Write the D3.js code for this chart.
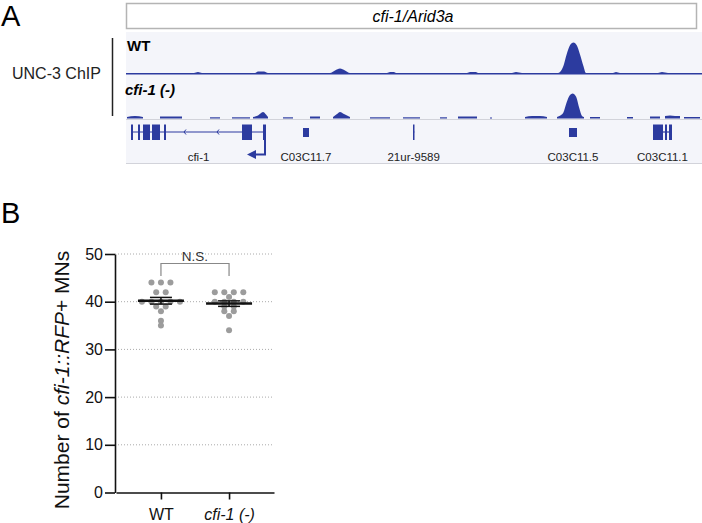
<!DOCTYPE html>
<html>
<head>
<meta charset="utf-8">
<style>
	body { margin: 0; background: #fff; }
	svg { display: block; font-family: "Liberation Sans", Arial, sans-serif; }
</style>
</head>
<body>
<svg id="fig" width="702" height="523"></svg>
<script src="https://d3js.org/d3.v7.min.js"></script>
<script>

	// ---- panel A : ChIP signal, positions in kb from left edge of browser window ----
	var wtSignal = [[
		[0,1.5],[3.4,1.5],[3.6,2.5],[3.8,1.5],[6.45,1.5],[6.6,3],[6.9,3],[7.1,1.5],
		[10.2,1.5],[10.45,4],[10.7,6],[10.95,4],[11.2,1.5],[13.05,1.5],[13.2,2.5],[13.4,2.5],[13.5,1.5],
		[17.05,1.5],[17.2,2.5],[17.5,2.5],[17.6,1.5],[19.3,1.5],[19.5,2.5],[19.8,1.5],
		[21.6,1.5],[21.7,2.5],[21.87,8.5],[22.03,20],[22.2,29.3],[22.37,32],[22.53,29.5],[22.7,20],[22.87,8.5],[23.0,1.5],
		[24.35,1.5],[24.5,2.5],[24.7,1.5],[26.6,1.5],[26.8,2.5],[27.1,1.5],[28.8,1.5]
	]];
	var cfiSignal = [
		[[0.05,1.5],[0.45,2.5],[0.85,1.5]],
		[[1.7,2],[2.8,2]],
		[[4.2,1.2],[4.7,1.2]],
		[[5.3,1.2],[6.2,1.2]],
		[[6.35,1.5],[6.6,3],[6.85,6.5],[7.0,4],[7.1,1.5]],
		[[7.85,1.2],[8.35,1.2]],
		[[9.2,2],[9.7,2]],
		[[10.35,1.5],[10.55,4.5],[10.7,6.5],[10.9,4.5],[11.2,1.5]],
		[[12.2,1.2],[13.2,1.2]],
		[[13.85,1.2],[14.7,1.2]],
		[[15.7,1.2],[16.05,1.2]],
		[[16.6,2],[17.55,2]],
		[[18.2,1],[18.3,1]],
		[[19.95,1.5],[20.3,2.5],[20.7,2.5],[21.05,1.5]],
		[[21.55,1.5],[21.67,2.5],[21.87,6],[22.03,16],[22.2,23.5],[22.33,25],[22.5,22],[22.67,10],[22.8,2.5],[22.9,1.5]],
		[[23.2,1.5],[23.7,1.5]],
		[[25.05,1.5],[25.35,1.5]],
		[[26.2,2],[26.7,2]],
		[[26.95,2.5],[27.2,3],[27.45,2.5],[27.7,2.5]],
		[[27.9,1.5],[28.7,1.5]]
	];

	// gene models : c = coding exon (tall), n = short box
	var geneNames = ["cfi-1", "C03C11.7", "21ur-9589", "C03C11.5", "C03C11.1"];
	var geneSpans = [[0.25,7.0],[8.85,9.15],[14.35,14.42],[22.15,22.55],[26.35,27.3]];
	var geneExons = [
		[[0.25,0.35,"c"],[0.6,0.7,"c"],[0.85,1.2,"c"],[1.3,1.7,"c"],[1.9,2.0,"c"],[5.8,6.3,"c"],[6.85,7.0,"c"]],
		[[8.85,9.15,"n"]],
		[[14.35,14.42,"c"]],
		[[22.15,22.55,"n"]],
		[[26.35,26.85,"c"],[26.95,27.05,"c"],[27.15,27.3,"c"]]
	];
	var intronMarks = [2.9, 4.55];

	// ---- panel B : cfi-1::RFP+ MN counts ----
	var groups = ["WT", "cfi-1 (-)"];
	var wtCounts = [44,44,44,42,42,40,40,40,40,40,39,39,38,36,35];
	var cfiCounts = [42,42,42,42,41,40,40,40,40,39,39,38,38,37,34];
	var yTicks = [0,10,20,30,40,50];

	var svg = d3.select("#fig");
	var blue = "#2c3b9f";

	// ================= panel A =================
	svg.append("text").attr("x", 1).attr("y", 26).style("font-size", "29px").text("A");

	var gx = d3.scaleLinear().domain([0, 28.8]).range([126, 702]);

	svg.append("rect").attr("x", 126.5).attr("y", 3.5).attr("width", 570).attr("height", 25)
		.attr("fill", "#fff").attr("stroke", "#b4b4b4").attr("stroke-width", 1.5);
	svg.append("text").attr("x", 413).attr("y", 21.5).attr("text-anchor", "middle")
		.style("font-size", "16px").style("font-style", "italic").text("cfi-1/Arid3a");

	svg.append("rect").attr("x", 126).attr("y", 32).attr("width", 576).attr("height", 132).attr("fill", "#f4f5fa");
	[119.5, 163.5].forEach(function(yy){
		svg.append("line").attr("x1", 126).attr("x2", 702).attr("y1", yy).attr("y2", yy)
			.attr("stroke", "#d2d3da").attr("stroke-width", 1);
	});

	svg.append("line").attr("x1", 112.5).attr("x2", 112.5).attr("y1", 38).attr("y2", 116)
		.attr("stroke", "#222").attr("stroke-width", 1.5);
	svg.append("text").attr("x", 12).attr("y", 78.5).style("font-size", "16px").attr("fill", "#222").text("UNC-3 ChIP");

	svg.append("text").attr("x", 127).attr("y", 51).style("font-size", "15px").style("font-weight", "bold").text("WT");
	svg.append("text").attr("x", 125).attr("y", 95).style("font-size", "15px").style("font-weight", "bold")
		.style("font-style", "italic").text("cfi-1 (-)");

	function drawTrack(segs, base){
		var sy = d3.scaleLinear().domain([0, 32]).range([base, base - 32]);
		var area = d3.area().curve(d3.curveMonotoneX)
			.x(function(d){ return gx(d[0]); })
			.y0(base)
			.y1(function(d){ return sy(d[1]); });
		svg.append("g").selectAll("path").data(segs).enter().append("path")
			.attr("d", area).attr("fill", blue);
	}
	drawTrack(wtSignal, 74.5);
	drawTrack(cfiSignal, 118.5);

	// genes
	var gg = svg.append("g");
	geneSpans.forEach(function(s, i){
		gg.append("line").attr("x1", gx(s[0])).attr("x2", gx(s[1])).attr("y1", 132).attr("y2", 132)
			.attr("stroke", blue).attr("stroke-width", 1.2);
		gg.selectAll(null).data(geneExons[i]).enter().append("rect")
			.attr("x", function(d){ return gx(d[0]); })
			.attr("width", function(d){ return Math.max(1.5, gx(d[1]) - gx(d[0])); })
			.attr("y", function(d){ return d[2] == "c" ? 124.5 : 128; })
			.attr("height", function(d){ return d[2] == "c" ? 15.5 : 9; })
			.attr("fill", blue);
		gg.append("text").attr("x", gx((s[0] + s[1]) / 2)).attr("y", 161).attr("text-anchor", "middle")
			.style("font-size", "11.5px").attr("fill", "#222").text(geneNames[i]);
	});
	gg.selectAll(null).data(intronMarks).enter().append("path")
		.attr("d", function(d){ var x = gx(d); return "M" + (x + 2) + ",129.5L" + x + ",132L" + (x + 2) + ",134.5"; })
		.attr("fill", "none").attr("stroke", blue).attr("stroke-width", 1);
	// TSS arrow (minus strand)
	var tss = gx(geneSpans[0][1]) - 1;
	gg.append("path").attr("d", "M" + tss + ",139V154.5H" + (tss - 10))
		.attr("fill", "none").attr("stroke", blue).attr("stroke-width", 2);
	gg.append("path").attr("d", "M" + (tss - 18) + ",154.5L" + (tss - 9) + ",150L" + (tss - 9) + ",159Z").attr("fill", blue);

	// ================= panel B =================
	svg.append("text").attr("x", 1).attr("y", 223).style("font-size", "29px").text("B");

	var y = d3.scaleLinear().domain([0, 50]).range([492.5, 254]);
	var x = d3.scalePoint().domain(groups).range([116, 274]).padding(0.66);

	// grid
	svg.append("g").selectAll("line").data(yTicks.slice(1)).enter().append("line")
		.attr("x1", 115).attr("x2", 274)
		.attr("y1", function(d){ return y(d); }).attr("y2", function(d){ return y(d); })
		.attr("stroke", "#aaa").attr("stroke-width", 1).attr("stroke-dasharray", "1,2");

	var ya = svg.append("g").attr("transform", "translate(115,0)")
		.call(d3.axisLeft(y).tickValues(yTicks).tickSize(10).tickSizeOuter(0).tickPadding(2));
	var xa = svg.append("g").attr("transform", "translate(0," + y(0) + ")")
		.call(d3.axisBottom(x).tickSize(7).tickSizeOuter(0).tickPadding(9));
	[ya, xa].forEach(function(a){
		a.selectAll("path,line").attr("stroke", "#111").attr("stroke-width", 1.6);
		a.selectAll("text").style("font-size", "16px").attr("fill", "#111")
			.style("font-family", "'Liberation Sans', Arial, sans-serif");
	});
	xa.selectAll("text").style("font-style", function(d){ return d == "WT" ? "normal" : "italic"; });

	var yl = svg.append("text").attr("transform", "translate(69,380) rotate(-90)")
		.attr("text-anchor", "middle").style("font-size", "21px").attr("fill", "#111");
	yl.append("tspan").text("Number of ");
	yl.append("tspan").style("font-style", "italic").text("cfi-1::RFP");
	yl.append("tspan").text("+ MNs");

	// N.S. bracket
	svg.append("path")
		.attr("d", "M" + x(groups[0]) + ",276V263.5H" + x(groups[1]) + "V276")
		.attr("fill", "none").attr("stroke", "#888").attr("stroke-width", 1.2);
	svg.append("text").attr("x", (x(groups[0]) + x(groups[1])) / 2).attr("y", 261).attr("text-anchor", "middle")
		.style("font-size", "13.5px").attr("fill", "#333").text("N.S.");

	// dots (rows of equal value spread sideways) + mean / SEM
	[wtCounts, cfiCounts].forEach(function(vals, gi){
		var cx = x(groups[gi]);
		var byVal = d3.group(vals, function(v){ return v; });
		var pts = [];
		byVal.forEach(function(arr, v){
			arr.forEach(function(_, k){ pts.push({ v: v, dx: (k - (arr.length - 1) / 2) * 9.5 }); });
		});
		svg.append("g").selectAll("circle").data(pts).enter().append("circle")
			.attr("cx", function(d){ return cx + d.dx; })
			.attr("cy", function(d){ return y(d.v); })
			.attr("r", 3).attr("fill", "#9c9c9c");

		var m = d3.mean(vals), sem = d3.deviation(vals) / Math.sqrt(vals.length);
		var g = svg.append("g").attr("stroke", "#111");
		g.append("line").attr("x1", cx - 23).attr("x2", cx + 23).attr("y1", y(m)).attr("y2", y(m)).attr("stroke-width", 2.5);
		g.append("line").attr("x1", cx).attr("x2", cx).attr("y1", y(m + sem)).attr("y2", y(m - sem)).attr("stroke-width", 1.5);
		[m + sem, m - sem].forEach(function(v){
			g.append("line").attr("x1", cx - 11).attr("x2", cx + 11).attr("y1", y(v)).attr("y2", y(v)).attr("stroke-width", 1.5);
		});
	});
</script>
</body>
</html>
